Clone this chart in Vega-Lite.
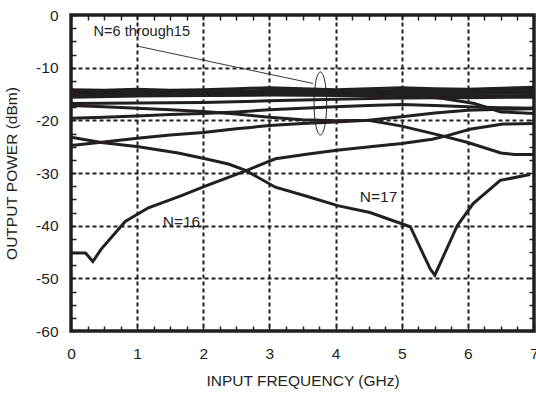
{
  "$schema": "https://vega.github.io/schema/vega-lite/v6.json",
  "width": 463,
  "height": 316,
  "autosize": {"type": "none"},
  "padding": {"left": 71, "top": 15, "right": 2, "bottom": 65},
  "background": "white",
  "config": {
    "view": {"stroke": "#231f20", "strokeWidth": 3.5},
    "font": "Liberation Sans",
    "text": {"font": "Liberation Sans", "color": "#231f20"}
  },
  "datasets": {
    "curves": [
      {"s": "L1", "f": 0, "p": -14.2}, {"s": "L1", "f": 0.5, "p": -14.3}, {"s": "L1", "f": 1, "p": -14.1}, {"s": "L1", "f": 1.5, "p": -14.3}, {"s": "L1", "f": 2, "p": -14.2}, {"s": "L1", "f": 2.5, "p": -14.0}, {"s": "L1", "f": 3, "p": -13.8}, {"s": "L1", "f": 3.5, "p": -14.0}, {"s": "L1", "f": 4, "p": -14.2}, {"s": "L1", "f": 4.5, "p": -14.0}, {"s": "L1", "f": 5, "p": -13.8}, {"s": "L1", "f": 5.5, "p": -14.0}, {"s": "L1", "f": 6, "p": -14.1}, {"s": "L1", "f": 6.5, "p": -13.9}, {"s": "L1", "f": 7, "p": -13.7},
      {"s": "L2", "f": 0, "p": -14.6}, {"s": "L2", "f": 1, "p": -14.5}, {"s": "L2", "f": 2, "p": -14.6}, {"s": "L2", "f": 3, "p": -14.3}, {"s": "L2", "f": 3.5, "p": -14.4}, {"s": "L2", "f": 4, "p": -14.6}, {"s": "L2", "f": 5, "p": -14.3}, {"s": "L2", "f": 6, "p": -14.4}, {"s": "L2", "f": 7, "p": -14.1},
      {"s": "L3", "f": 0, "p": -14.9}, {"s": "L3", "f": 1, "p": -14.8}, {"s": "L3", "f": 2, "p": -14.9}, {"s": "L3", "f": 3, "p": -14.7}, {"s": "L3", "f": 4, "p": -14.8}, {"s": "L3", "f": 5, "p": -14.7}, {"s": "L3", "f": 6, "p": -14.6}, {"s": "L3", "f": 7, "p": -14.4},
      {"s": "L4", "f": 0, "p": -15.2}, {"s": "L4", "f": 1, "p": -15.1}, {"s": "L4", "f": 2, "p": -15.0}, {"s": "L4", "f": 3, "p": -15.1}, {"s": "L4", "f": 4, "p": -15.0}, {"s": "L4", "f": 5, "p": -15.0}, {"s": "L4", "f": 6, "p": -14.9}, {"s": "L4", "f": 7, "p": -14.8},
      {"s": "L5", "f": 0, "p": -15.6}, {"s": "L5", "f": 1, "p": -15.4}, {"s": "L5", "f": 2, "p": -15.3}, {"s": "L5", "f": 3, "p": -15.2}, {"s": "L5", "f": 4, "p": -15.3}, {"s": "L5", "f": 5, "p": -15.3}, {"s": "L5", "f": 6, "p": -15.4}, {"s": "L5", "f": 7, "p": -15.3},
      {"s": "L6", "f": 0, "p": -15.1}, {"s": "L6", "f": 1, "p": -15.2}, {"s": "L6", "f": 2, "p": -15.3}, {"s": "L6", "f": 3, "p": -15.0}, {"s": "L6", "f": 4, "p": -15.1}, {"s": "L6", "f": 5, "p": -15.2}, {"s": "L6", "f": 5.6, "p": -15.8}, {"s": "L6", "f": 6.1, "p": -16.8}, {"s": "L6", "f": 6.5, "p": -18.4}, {"s": "L6", "f": 7, "p": -18.7},
      {"s": "P", "f": 0, "p": -16.8}, {"s": "P", "f": 1, "p": -16.7}, {"s": "P", "f": 2, "p": -16.6}, {"s": "P", "f": 3, "p": -16.3}, {"s": "P", "f": 4, "p": -16.0}, {"s": "P", "f": 4.7, "p": -15.8}, {"s": "P", "f": 5.5, "p": -15.7}, {"s": "P", "f": 6, "p": -15.7}, {"s": "P", "f": 7, "p": -15.6},
      {"s": "Q", "f": 0, "p": -17.2}, {"s": "Q", "f": 0.5, "p": -17.4}, {"s": "Q", "f": 1, "p": -17.7}, {"s": "Q", "f": 1.5, "p": -18.0}, {"s": "Q", "f": 2, "p": -18.3}, {"s": "Q", "f": 2.5, "p": -18.8}, {"s": "Q", "f": 3, "p": -19.4}, {"s": "Q", "f": 3.5, "p": -19.9}, {"s": "Q", "f": 4, "p": -20.1}, {"s": "Q", "f": 4.5, "p": -20.0}, {"s": "Q", "f": 5, "p": -19.3}, {"s": "Q", "f": 5.5, "p": -18.6}, {"s": "Q", "f": 6, "p": -18.1}, {"s": "Q", "f": 6.5, "p": -17.9}, {"s": "Q", "f": 7, "p": -17.8},
      {"s": "R", "f": 0, "p": -19.6}, {"s": "R", "f": 0.5, "p": -19.4}, {"s": "R", "f": 1, "p": -19.2}, {"s": "R", "f": 1.5, "p": -18.9}, {"s": "R", "f": 2, "p": -18.7}, {"s": "R", "f": 2.5, "p": -18.4}, {"s": "R", "f": 3, "p": -18.0}, {"s": "R", "f": 3.5, "p": -17.7}, {"s": "R", "f": 4, "p": -17.4}, {"s": "R", "f": 4.5, "p": -17.2}, {"s": "R", "f": 5, "p": -17.0}, {"s": "R", "f": 5.5, "p": -17.2}, {"s": "R", "f": 6, "p": -17.4}, {"s": "R", "f": 6.5, "p": -17.6}, {"s": "R", "f": 7, "p": -17.7},
      {"s": "A", "f": 0, "p": -24.8}, {"s": "A", "f": 0.5, "p": -24.1}, {"s": "A", "f": 1, "p": -23.4}, {"s": "A", "f": 1.5, "p": -22.8}, {"s": "A", "f": 2, "p": -22.3}, {"s": "A", "f": 2.5, "p": -21.6}, {"s": "A", "f": 3, "p": -21.0}, {"s": "A", "f": 3.5, "p": -20.6}, {"s": "A", "f": 4, "p": -20.3}, {"s": "A", "f": 4.5, "p": -20.0}, {"s": "A", "f": 5, "p": -21.1}, {"s": "A", "f": 5.6, "p": -22.9}, {"s": "A", "f": 6, "p": -24.2}, {"s": "A", "f": 6.5, "p": -26.2}, {"s": "A", "f": 6.7, "p": -26.5}, {"s": "A", "f": 7, "p": -26.5},
      {"s": "N16", "f": 0, "p": -45.2}, {"s": "N16", "f": 0.22, "p": -45.2}, {"s": "N16", "f": 0.33, "p": -46.8}, {"s": "N16", "f": 0.46, "p": -44.4}, {"s": "N16", "f": 0.82, "p": -39.2}, {"s": "N16", "f": 1.17, "p": -36.6}, {"s": "N16", "f": 1.67, "p": -34.3}, {"s": "N16", "f": 2.03, "p": -32.5}, {"s": "N16", "f": 2.64, "p": -29.6}, {"s": "N16", "f": 3.09, "p": -27.3}, {"s": "N16", "f": 3.59, "p": -26.4}, {"s": "N16", "f": 4.02, "p": -25.7}, {"s": "N16", "f": 4.52, "p": -25.0}, {"s": "N16", "f": 5.0, "p": -24.4}, {"s": "N16", "f": 5.46, "p": -23.6}, {"s": "N16", "f": 5.69, "p": -22.9}, {"s": "N16", "f": 6.03, "p": -21.7}, {"s": "N16", "f": 6.53, "p": -20.7}, {"s": "N16", "f": 7, "p": -20.6},
      {"s": "N17", "f": 0, "p": -23.2}, {"s": "N17", "f": 0.46, "p": -24.2}, {"s": "N17", "f": 1.02, "p": -25.0}, {"s": "N17", "f": 1.62, "p": -26.2}, {"s": "N17", "f": 2.03, "p": -27.3}, {"s": "N17", "f": 2.38, "p": -28.3}, {"s": "N17", "f": 2.64, "p": -29.5}, {"s": "N17", "f": 3.09, "p": -32.7}, {"s": "N17", "f": 3.59, "p": -34.5}, {"s": "N17", "f": 4.03, "p": -36.2}, {"s": "N17", "f": 4.52, "p": -37.5}, {"s": "N17", "f": 5.13, "p": -40.2}, {"s": "N17", "f": 5.43, "p": -48.2}, {"s": "N17", "f": 5.5, "p": -49.4}, {"s": "N17", "f": 5.84, "p": -40.0}, {"s": "N17", "f": 6.08, "p": -35.8}, {"s": "N17", "f": 6.49, "p": -31.4}, {"s": "N17", "f": 6.94, "p": -30.3}
    ],
    "labels": [
      {"f": 1.07, "p": -3.2, "text": "N=6 through15", "size": 14.5},
      {"f": 1.67, "p": -39.3, "text": "N=16", "size": 15.5},
      {"f": 4.65, "p": -34.5, "text": "N=17", "size": 15.5}
    ],
    "leader": [
      {"f": 1.0, "p": -5.9},
      {"f": 3.66, "p": -13.0}
    ],
    "ellipse": [
      {"f": 3.77, "p": -16.8}
    ]
  },
  "layer": [
    {
      "data": {"name": "curves"},
      "mark": {"type": "line", "color": "#231f20", "strokeWidth": 3, "clip": true},
      "encoding": {
        "x": {
          "field": "f", "type": "quantitative",
          "scale": {"domain": [0, 7], "nice": false, "zero": false},
          "axis": {
            "orient": "bottom",
            "values": [0, 0.25, 0.5, 0.75, 1, 1.25, 1.5, 1.75, 2, 2.25, 2.5, 2.75, 3, 3.25, 3.5, 3.75, 4, 4.25, 4.5, 4.75, 5, 5.25, 5.5, 5.75, 6, 6.25, 6.5, 6.75, 7],
            "labelExpr": "datum.value % 1 === 0 ? '' + datum.value : ''",
            "labelFontSize": 15.5, "labelColor": "#231f20", "labelFont": "Liberation Sans", "labelPadding": 15,
            "labelOverlap": false, "labelFlush": false,
            "offset": -5, "tickSize": 5, "tickColor": "#231f20", "tickWidth": 1.5,
            "domain": false,
            "grid": true,
            "gridDash": [4, 3], "gridWidth": 2,
            "gridColor": {"condition": {"test": "abs(datum.value - round(datum.value)) < 0.01 && datum.value > 0.5 && datum.value < 6.5", "value": "#231f20"}, "value": "rgba(0,0,0,0)"},
            "title": "INPUT FREQUENCY (GHz)", "titleFontSize": 15.5, "titleFontWeight": "normal", "titleColor": "#231f20", "titleFont": "Liberation Sans", "titlePadding": 12
          }
        },
        "y": {
          "field": "p", "type": "quantitative",
          "scale": {"domain": [-60, 0], "nice": false, "zero": false},
          "axis": {
            "orient": "left",
            "values": [-60, -57.5, -55, -52.5, -50, -47.5, -45, -42.5, -40, -37.5, -35, -32.5, -30, -27.5, -25, -22.5, -20, -17.5, -15, -12.5, -10, -7.5, -5, -2.5, 0],
            "labelExpr": "datum.value % 10 === 0 ? '' + datum.value : ''",
            "labelFontSize": 15.5, "labelColor": "#231f20", "labelFont": "Liberation Sans", "labelPadding": 13,
            "labelOverlap": false, "labelFlush": false,
            "offset": -5, "tickSize": 5, "tickColor": "#231f20", "tickWidth": 1.5,
            "domain": false,
            "grid": true,
            "gridDash": [4, 3], "gridWidth": 2,
            "gridColor": {"condition": {"test": "abs(datum.value/10 - round(datum.value/10)) < 0.01 && datum.value > -55 && datum.value < -5", "value": "#231f20"}, "value": "rgba(0,0,0,0)"},
            "title": "OUTPUT POWER (dBm)", "titleFontSize": 15.5, "titleFontWeight": "normal", "titleColor": "#231f20", "titleFont": "Liberation Sans", "titlePadding": 16
          }
        },
        "detail": {"field": "s", "type": "nominal"}
      }
    },
    {
      "data": {"name": "labels"},
      "mark": {"type": "text", "baseline": "middle", "align": "center", "font": "Liberation Sans", "color": "#231f20"},
      "encoding": {
        "x": {
          "field": "f", "type": "quantitative",
          "axis": {
            "orient": "top",
            "values": [0, 0.25, 0.5, 0.75, 1, 1.25, 1.5, 1.75, 2, 2.25, 2.5, 2.75, 3, 3.25, 3.5, 3.75, 4, 4.25, 4.5, 4.75, 5, 5.25, 5.5, 5.75, 6, 6.25, 6.5, 6.75, 7],
            "labels": false, "title": null, "domain": false, "grid": false,
            "offset": -5, "tickSize": 5, "tickColor": "#231f20", "tickWidth": 1.5
          }
        },
        "y": {
          "field": "p", "type": "quantitative",
          "axis": {
            "orient": "right",
            "values": [-60, -57.5, -55, -52.5, -50, -47.5, -45, -42.5, -40, -37.5, -35, -32.5, -30, -27.5, -25, -22.5, -20, -17.5, -15, -12.5, -10, -7.5, -5, -2.5, 0],
            "labels": false, "title": null, "domain": false, "grid": false,
            "offset": -5, "tickSize": 5, "tickColor": "#231f20", "tickWidth": 1.5
          }
        },
        "text": {"field": "text", "type": "nominal"},
        "size": {"field": "size", "type": "quantitative", "scale": null}
      }
    },
    {
      "data": {"name": "leader"},
      "mark": {"type": "line", "color": "#231f20", "strokeWidth": 0.9},
      "encoding": {
        "x": {"field": "f", "type": "quantitative", "axis": null},
        "y": {"field": "p", "type": "quantitative", "axis": null}
      }
    },
    {
      "data": {"name": "ellipse"},
      "mark": {"type": "point", "shape": "M0,-1 A0.2,1 0 1,1 0,1 A0.2,1 0 1,1 0,-1 Z", "size": 3969, "filled": false, "stroke": "#231f20", "strokeWidth": 1, "opacity": 1},
      "encoding": {
        "x": {"field": "f", "type": "quantitative", "axis": null},
        "y": {"field": "p", "type": "quantitative", "axis": null}
      }
    }
  ],
  "resolve": {"axis": {"x": "independent", "y": "independent"}}
}
